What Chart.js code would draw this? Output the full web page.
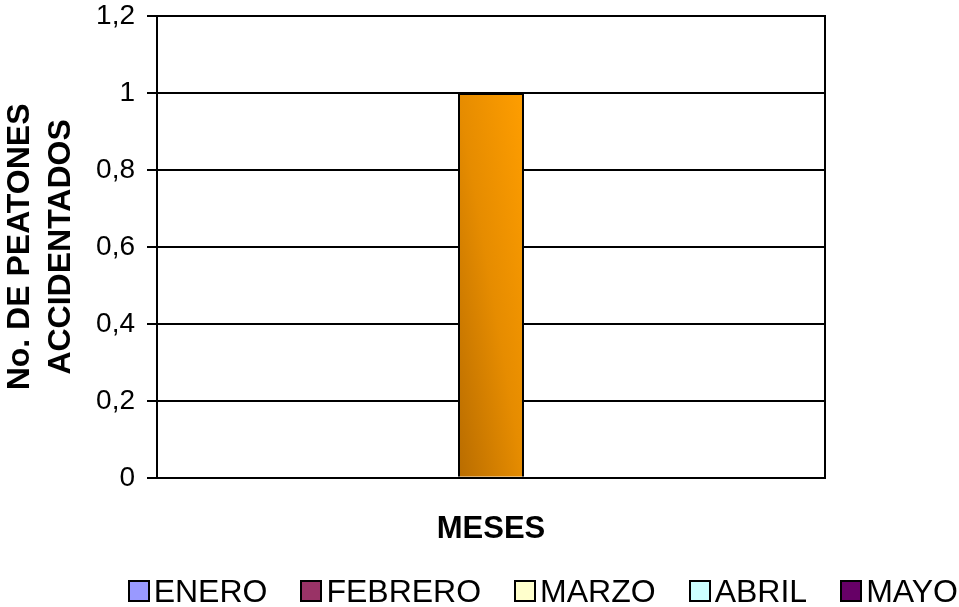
<!DOCTYPE html>
<html lang="es">
<head>
  <meta charset="UTF-8">
  <title>Peatones accidentados por mes</title>
  <script src="https://cdn.jsdelivr.net/npm/chart.js"></script>
  <style>
    html, body { margin: 0; padding: 0; background: #fff; }
    .wrap { position: relative; width: 959px; height: 607px; }
    #chart { display: block; }
    .legend {
      position: absolute; right: 1px; top: 575px;
      display: flex; align-items: center; gap: 33px;
      font-family: "Liberation Sans", Arial, sans-serif; font-size: 32px; line-height: 32px; color: #000;
    }
    .legend .item { display: flex; align-items: center; }
    .legend .box { width: 22px; height: 22px; box-sizing: border-box; border: 2px solid #000; margin-right: 4px; }
  </style>
</head>
<body>
  <div class="wrap">
    <canvas id="chart" width="959" height="607"></canvas>
    <div class="legend" id="legend"></div>
  </div>

  <script>
    const months = ['ENERO', 'FEBRERO', 'MARZO', 'ABRIL', 'MAYO'];
    const monthColors = ['#9999ff', '#993366', '#ffffcc', '#ccffff', '#660066'];
    const accidentados = [0, 0, 1, 0, 0];
    const yTicks = ['0', '0,2', '0,4', '0,6', '0,8', '1', '1,2'];

    const CAT_PCT = 0.494;
    const FONT = '"Liberation Sans", Arial, sans-serif';

    // orange diagonal fill for the highlighted bar (dark lower-left -> light upper-right)
    function orangeFill(ctx) {
      if (ctx.type !== 'data') return '#f09000';
      const chart = ctx.chart;
      const xs = chart.scales.x, ys = chart.scales.y;
      if (!xs || !ys || !chart.chartArea) return '#f09000';
      const group = xs.width / xs.getLabels().length * CAT_PCT;
      const w = group / months.length;
      const x0 = xs.getPixelForValue(ctx.dataIndex) - group / 2 + w * ctx.datasetIndex;
      const bottom = ys.getPixelForValue(0);
      const h = Math.max(1, bottom - ys.getPixelForValue(ctx.raw));
      const gx = 0.5 / w, gy = -0.5 / h, g2 = gx * gx + gy * gy;
      const grad = chart.ctx.createLinearGradient(x0, bottom, x0 + gx / g2, bottom + gy / g2);
      grad.addColorStop(0, '#b86c00');
      grad.addColorStop(0.5, '#e68c00');
      grad.addColorStop(1, '#ff9e00');
      return grad;
    }

    const datasets = months.map((m, i) => ({
      label: m,
      data: [accidentados[i]],
      backgroundColor: i === 2 ? orangeFill : monthColors[i],
      borderColor: '#000',
      borderWidth: 2
    }));

    new Chart(document.getElementById('chart'), {
      type: 'bar',
      data: { labels: [''], datasets },
      options: {
        responsive: false,
        animation: false,
        layout: { padding: { top: 0, bottom: 59, left: 0, right: 0 } },
        datasets: { bar: { categoryPercentage: CAT_PCT, barPercentage: 1 } },
        plugins: { legend: { display: false }, tooltip: { enabled: false } },
        scales: {
          x: {
            grid: { display: false, drawTicks: false },
            border: { color: '#000', width: 2 },
            ticks: { display: false },
            title: {
              display: true, text: 'MESES', color: '#000',
              font: { family: FONT, size: 31, weight: 'bold', lineHeight: 1.2 },
              padding: { top: 33, bottom: 0 }
            }
          },
          y: {
            min: 0, max: 1.2,
            grid: { color: '#000', lineWidth: 2, tickLength: 10, tickColor: '#000' },
            border: { color: '#000', width: 2 },
            ticks: {
              stepSize: 0.2, padding: 12, color: '#000',
              font: { family: FONT, size: 28 },
              callback: (v, i) => yTicks[i]
            },
            title: {
              display: true, text: ['No. DE PEATONES', 'ACCIDENTADOS'], color: '#000',
              font: { family: FONT, size: 32, weight: 'bold', lineHeight: 1.28 },
              padding: 0
            },
            afterFit: s => {
              s.width = 157;
              // only half a label is needed above the top tick
              s.paddingTop = 16;
              s.paddingBottom = 16;
            }
          },
          // empty right axis: closes the plot frame and leaves room on the right
          r: {
            type: 'linear', position: 'right',
            grid: { display: false, drawTicks: false },
            ticks: { display: false },
            border: { color: '#000', width: 2 },
            afterFit: s => { s.width = 134; }
          }
        }
      }
    });

    const legend = document.getElementById('legend');
    months.forEach((m, i) => {
      const item = document.createElement('span');
      item.className = 'item';
      const box = document.createElement('span');
      box.className = 'box';
      box.style.background = monthColors[i];
      item.appendChild(box);
      item.appendChild(document.createTextNode(m));
      legend.appendChild(item);
    });
  </script>
</body>
</html>
